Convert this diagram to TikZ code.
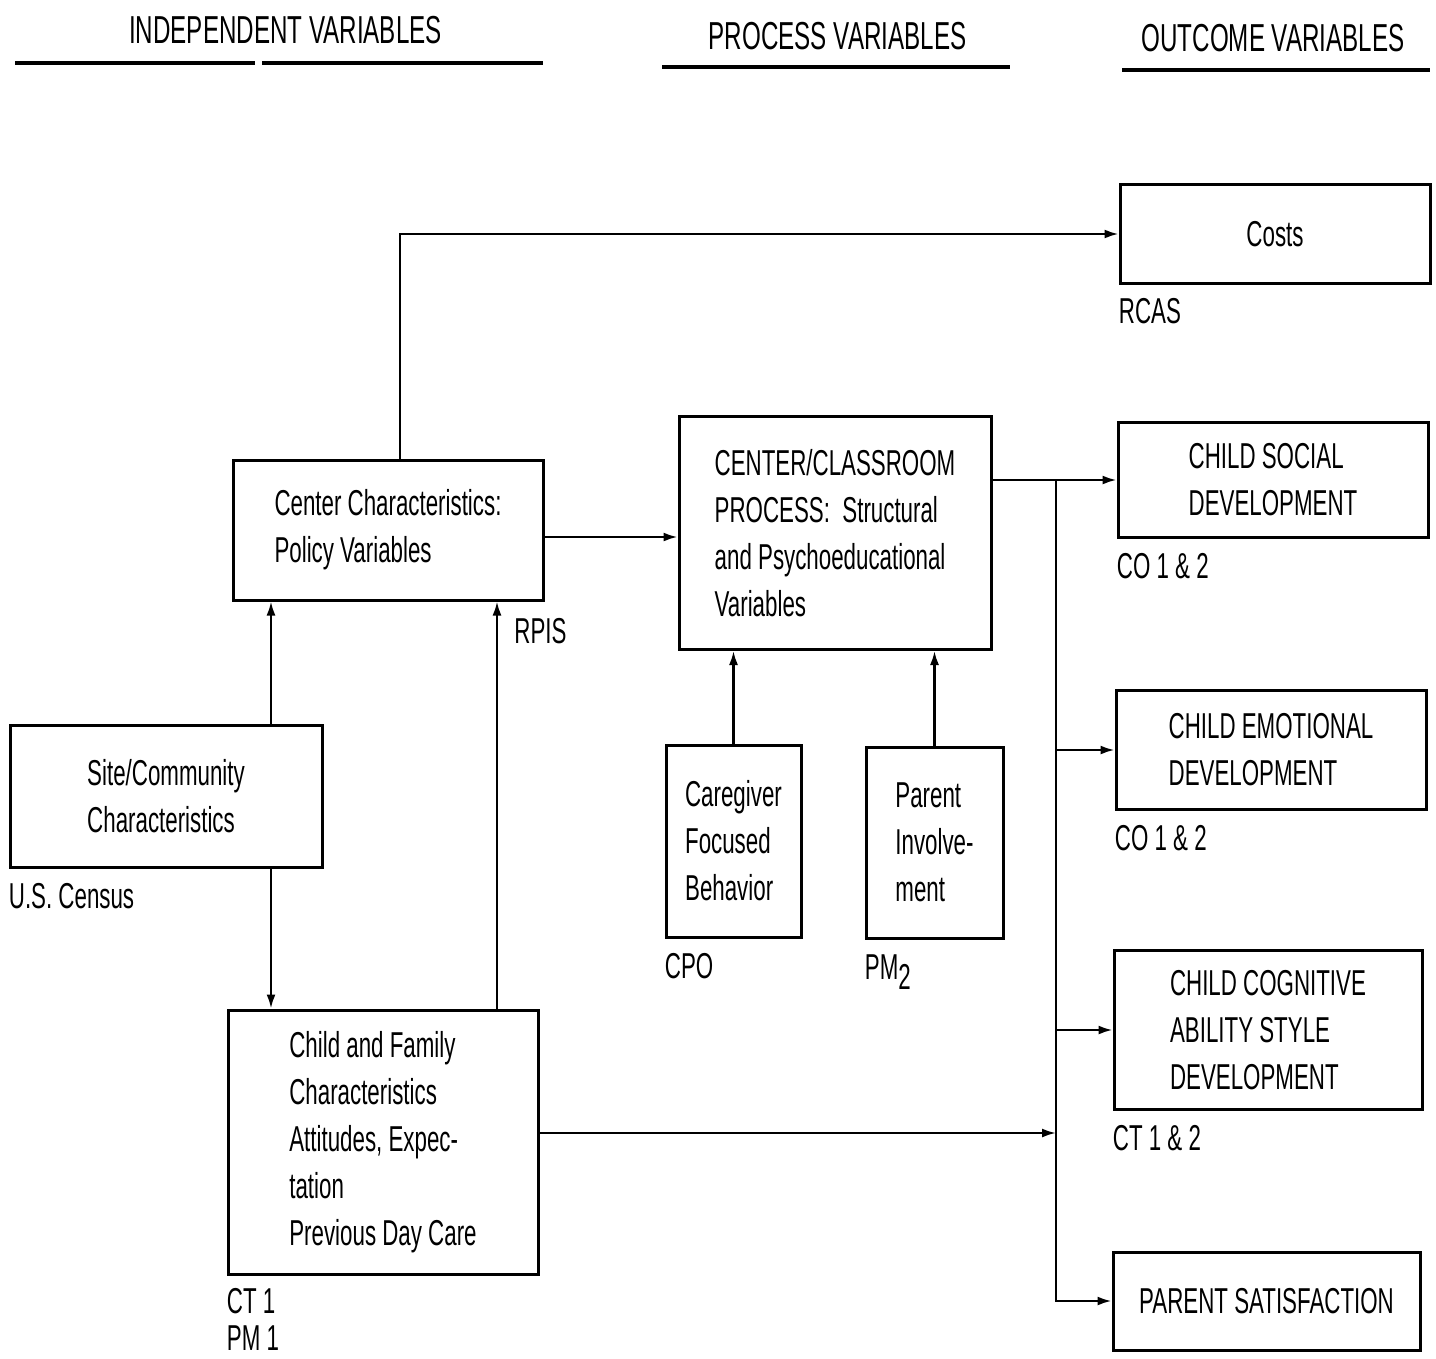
\documentclass[tikz,border=0pt]{standalone}
\usepackage{fontspec}
\setmainfont{Liberation Sans}[FakeStretch=0.62]
\usetikzlibrary{arrows.meta}
\newcommand\mybody{\fontsize{18}{23.5}\selectfont}
\newcommand\myhdr{\fontsize{19.5}{23}\selectfont}
\begin{document}
\begin{tikzpicture}[x=0.5pt,y=-0.5pt,
  box/.style={draw, line width=1.5pt, inner sep=0pt, align=left, font=\mybody},
  lab/.style={anchor=base west, inner sep=0pt, font=\mybody},
  hdr/.style={font=\myhdr, inner sep=0pt},
  arr/.style={line width=1.1pt, -{Latex[length=7pt,width=4.5pt]}},
  rulel/.style={line width=1.6pt}]
\useasboundingbox[fill=white] (0,0) rectangle (1436,1359);

% headers
\node[hdr] (h1) at (285.5,30) {INDEPENDENT VARIABLES};
\node[hdr] (h2) at (837.5,36) {PROCESS VARIABLES};
\node[hdr] (h3) at (1273,38) {OUTCOME VARIABLES};
\draw[rulel] (15,63) -- (255,63);
\draw[rulel] (262,63) -- (543,63);
\draw[rulel] (662,67) -- (1010,67);
\draw[rulel] (1122,70) -- (1430,70);

% boxes
\node[box, minimum width=155pt, minimum height=49pt] (costs) at (1275,234) {Costs};
\node[box, minimum width=155pt, minimum height=57.5pt] (soc) at (1273,480) {CHILD SOCIAL\\DEVELOPMENT};
\node[box, minimum width=155pt, minimum height=59.5pt] (emo) at (1271,750) {CHILD EMOTIONAL\\DEVELOPMENT};
\node[box, minimum width=154pt, minimum height=79.5pt] (cog) at (1268,1030) {CHILD COGNITIVE\\ABILITY STYLE\\DEVELOPMENT};
\node[box, minimum width=153.5pt, minimum height=49pt] (ps) at (1266.5,1301) {PARENT SATISFACTION};
\node[box, minimum width=155pt, minimum height=70pt] (cc) at (388,530) {Center Characteristics:\\Policy Variables};
\node[box, minimum width=156pt, minimum height=116.5pt] (ccp) at (835,533) {CENTER/CLASSROOM\\PROCESS:\ \ Structural\\and Psychoeducational\\Variables};
\node[box, minimum width=156pt, minimum height=71pt] (site) at (166,796) {Site/Community\\Characteristics};
\node[box, minimum width=155pt, minimum height=132pt] (cf) at (383,1142) {Child and Family\\Characteristics\\Attitudes, Expec-\\tation\\Previous Day Care};
\node[box, minimum width=67.5pt, minimum height=96pt] (cg) at (733.5,841) {Caregiver\\Focused\\Behavior};
\node[box, minimum width=68.5pt, minimum height=95.5pt] (pi) at (934.5,842.5) {Parent\\Involve-\\ment};

% labels
\node[lab] (lrcas) at ([yshift=-19.5pt]costs.south west) {RCAS};
\node[lab] (lsoc) at ([yshift=-19.5pt]soc.south west) {CO 1 \& 2};
\node[lab] (lemo) at ([yshift=-19.5pt]emo.south west) {CO 1 \& 2};
\node[lab] (lcog) at ([yshift=-19.5pt]cog.south west) {CT 1 \& 2};
\node[lab] (lsite) at ([yshift=-20pt]site.south west) {U.S. Census};
\node[lab] (lcg) at ([yshift=-20pt]cg.south west) {CPO};
\node[lab] (lpi) at ([yshift=-20pt]pi.south west) {PM\raisebox{-5pt}{2}};
\node[lab] (lcf1) at ([yshift=-19pt]cf.south west) {CT 1};
\node[lab] (lcf2) at ([yshift=-37.5pt]cf.south west) {PM 1};
\node[lab] (lrpis) at (514,643) {RPIS};

% connectors
\coordinate (xcost) at (400,0);
\coordinate (ya) at (0,537);
\coordinate (xs) at (271,0);
\coordinate (xr) at (497,0);
\coordinate (bus) at (1056,0);
\coordinate (ycf) at (0,1133);

\draw[arr] (cc.north -| xcost) |- (costs.west);
\draw[arr] (cc.east |- ya) -- (ccp.west |- ya);
\draw[arr] (site.north -| xs) -- (cc.south -| xs);
\draw[arr] (site.south -| xs) -- (cf.north -| xs);
\draw[arr] (cf.north -| xr) -- (cc.south -| xr);
\draw[arr] (cg.north) -- (cg.north |- ccp.south);
\draw[arr] (pi.north) -- (pi.north |- ccp.south);
\draw[arr] (ccp.east |- soc.west) -- (soc.west);
\draw[arr] (bus |- soc.west) |- (ps.west);
\draw[arr] (bus |- emo.west) -- (emo.west);
\draw[arr] (bus |- cog.west) -- (cog.west);
\draw[arr] (cf.east |- ycf) -- (bus |- ycf);
\end{tikzpicture}
\end{document}
